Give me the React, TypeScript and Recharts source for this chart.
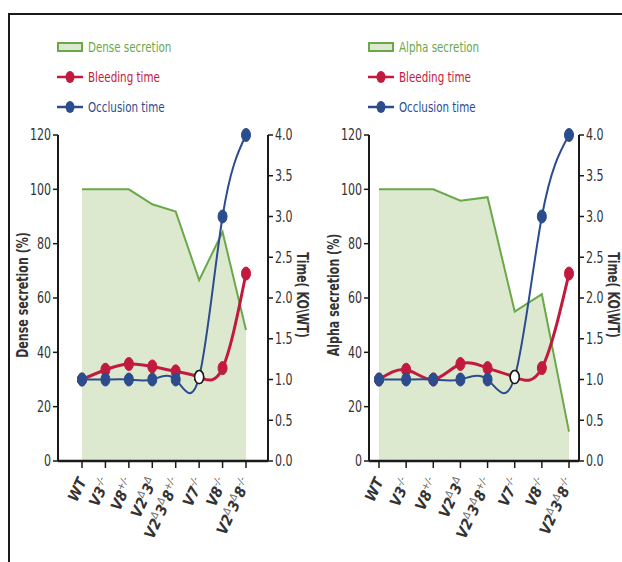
import React from 'react';
import { ComposedChart, Area, Line, XAxis, YAxis } from 'recharts';

// categories use {..} for superscript parts
const categories = ['WT', 'V3{-/-}', 'V8{+/-}', 'V2{Δ}3{Δ}', 'V2{Δ}3{Δ}8{+/-}', 'V7{-/-}', 'V8{-/-}', 'V2{Δ}3{Δ}8{-/-}'];

const denseSecretion = [100, 100, 100, 94.5, 91.8, 66.6, 84.3, 48.2];
const denseBleeding = [1.0, 1.12, 1.19, 1.16, 1.1, 1.03, 1.14, 2.3];
const denseOcclusion = [1.0, 1.0, 1.0, 1.0, 1.0, 1.03, 3.0, 4.0];

const alphaSecretion = [100, 100, 100, 95.8, 97.1, 55, 61.4, 10.8];
const alphaBleeding = [1.0, 1.12, 1.0, 1.19, 1.14, 1.03, 1.14, 2.3];
const alphaOcclusion = [1.0, 1.0, 1.0, 1.0, 1.0, 1.03, 3.0, 4.0];

const pctTicks = [0, 20, 40, 60, 80, 100, 120];
const timeTicks = [0, 0.5, 1, 1.5, 2, 2.5, 3, 3.5, 4];

const GREEN = '#6aa84a';
const GREEN_FILL = '#dde9cf';
const RED = '#c21a3e';
const BLUE = '#2b4d8e';
const INK = '#1a1a1a';
const FONT = '"DejaVu Sans Condensed", "DejaVu Sans", sans-serif';
const NARROW = 0.82;

const W = 311;
const H = 562;

const parseLabel = (s: string) =>
  s.split(/(\{[^}]*\})/).filter(Boolean).map((p) =>
    p.startsWith('{') ? { text: p.slice(1, -1), sup: true } : { text: p, sup: false }
  );

const CategoryTick = (props: any) => {
  const { x, y, payload } = props;
  const parts = parseLabel(categories[payload.value] ?? '');
  return (
    <g transform={`translate(${x + 5},${y + 11})`}>
      <text
        transform="rotate(-65)"
        textAnchor="end"
        fontFamily={FONT}
        fontStretch="condensed"
        fontStyle="italic"
        fontWeight="bold"
        fontSize={15}
        fill="#333"
      >
        {parts.map((p, i) => (
          <tspan
            key={i}
            fontSize={p.sup ? 10 : 15}
            fontWeight={p.sup ? 'normal' : 'bold'}
            fill={p.sup ? '#666' : '#333'}
            baselineShift={p.sup ? '6' : undefined}
          >
            {p.text}
          </tspan>
        ))}
      </text>
    </g>
  );
};

const makeNumTick = (digits: number, anchor: 'start' | 'end') => (props: any) => {
  const { x, y, payload } = props;
  return (
    <g transform={`translate(${x},${y})`}>
      <text
        transform={`scale(${NARROW},1)`}
        textAnchor={anchor}
        dy="0.36em"
        fontFamily={FONT}
        fontSize={15}
        fill="#333"
      >
        {Number(payload.value).toFixed(digits)}
      </text>
    </g>
  );
};

const makeDot = (color: string) => (props: any) => {
  const { cx, cy, index } = props;
  if (cx == null || cy == null) return <g key={`d-${index}`} />;
  const open = index === 5;
  return (
    <ellipse
      key={`d-${index}`}
      cx={cx}
      cy={cy}
      rx={4.5}
      ry={6.5}
      fill={open ? '#ffffff' : color}
      stroke={open ? INK : color}
      strokeWidth={open ? 1.5 : 1}
    />
  );
};

const SideLabel = ({ value, x, angle }: { value: string; x: number; angle: number }) => (props: any) => {
  const vb = props.viewBox || { y: 135, height: 326 };
  const cy = vb.y + vb.height / 2 - 3;
  return (
    <g transform={`translate(${x},${cy}) rotate(${angle}) scale(${NARROW},1)`}>
      <text
        textAnchor="middle"
        dominantBaseline="central"
        fontFamily={FONT}
        fontWeight="bold"
        fontSize={15}
        fill="#333"
      >
        {value}
      </text>
    </g>
  );
};

const LegendBlock = ({ secretionName, left }: { secretionName: string; left: number }) => {
  const rows = [
    { name: secretionName, color: GREEN, kind: 'box' },
    { name: 'Bleeding time', color: RED, kind: 'dot' },
    { name: 'Occlusion time', color: BLUE, kind: 'dot' },
  ];
  return (
    <svg width={200} height={90} style={{ position: 'absolute', left, top: 32 }}>
      {rows.map((r, i) => {
        const cy = 15 + i * 30;
        return (
          <g key={r.name}>
            {r.kind === 'box' ? (
              <rect x={2} y={cy - 4} width={24} height={8} fill={GREEN_FILL} stroke={GREEN} strokeWidth={2} />
            ) : (
              <>
                <line x1={1} x2={27} y1={cy} y2={cy} stroke={r.color} strokeWidth={2.5} />
                <ellipse cx={14} cy={cy} rx={4.5} ry={6} fill={r.color} />
              </>
            )}
            <g transform={`translate(32,${cy}) scale(${NARROW},1)`}>
              <text dominantBaseline="central" fontFamily={FONT} fontSize={14} fill={r.color}>
                {r.name}
              </text>
            </g>
          </g>
        );
      })}
    </svg>
  );
};

interface PanelProps {
  secretion: number[];
  bleeding: number[];
  occlusion: number[];
  secretionName: string;
  axisTitle: string;
  padding: { left: number; right: number };
  left: number;
}

const SecretionPanel: React.FC<PanelProps> = ({ secretion, bleeding, occlusion, secretionName, axisTitle, padding, left }) => {
  const data = categories.map((c, i) => ({
    idx: i,
    secretion: secretion[i],
    bleeding: bleeding[i],
    occlusion: occlusion[i],
  }));

  return (
    <div style={{ position: 'absolute', left, top: 0, width: W, height: H }}>
      <ComposedChart width={W} height={H} data={data} margin={{ top: 135, right: 0, bottom: 11, left: 18 }}>
        <XAxis
          dataKey="idx"
          type="number"
          domain={[0, 7]}
          ticks={[0, 1, 2, 3, 4, 5, 6, 7]}
          padding={padding}
          height={90}
          interval={0}
          tickSize={7}
          tick={<CategoryTick />}
          axisLine={{ stroke: INK, strokeWidth: 2.5 }}
          tickLine={{ stroke: INK, strokeWidth: 1.5 }}
        />
        <YAxis
          yAxisId="pct"
          domain={[0, 120]}
          ticks={pctTicks}
          width={40}
          tickSize={5}
          axisLine={{ stroke: INK, strokeWidth: 2 }}
          tickLine={{ stroke: INK, strokeWidth: 1.5 }}
          tick={makeNumTick(0, 'end')}
          label={{ content: SideLabel({ value: `${secretionName}  (%)`, x: 23, angle: -90 }) }}
        />
        <YAxis
          yAxisId="time"
          orientation="right"
          domain={[0, 4]}
          ticks={timeTicks}
          width={43}
          tickSize={5}
          axisLine={{ stroke: INK, strokeWidth: 2 }}
          tickLine={{ stroke: INK, strokeWidth: 1.5 }}
          tick={makeNumTick(1, 'start')}
          label={{ content: SideLabel({ value: axisTitle, x: 302, angle: 90 }) }}
        />
        <Area
          yAxisId="pct"
          type="linear"
          dataKey="secretion"
          stroke={GREEN}
          strokeWidth={2}
          fill={GREEN_FILL}
          fillOpacity={1}
          isAnimationActive={false}
        />
        <Line
          yAxisId="time"
          type="natural"
          dataKey="bleeding"
          stroke={RED}
          strokeWidth={3}
          dot={makeDot(RED)}
          activeDot={false}
          isAnimationActive={false}
        />
        <Line
          yAxisId="time"
          type="natural"
          dataKey="occlusion"
          stroke={BLUE}
          strokeWidth={2}
          dot={makeDot(BLUE)}
          activeDot={false}
          isAnimationActive={false}
        />
      </ComposedChart>
      <LegendBlock secretionName={secretionName} left={56} />
    </div>
  );
};

export default function App() {
  return (
    <div style={{ position: 'absolute', left: 0, top: 0, width: 622, height: 562, background: '#fff', overflow: 'hidden' }}>
      <div
        style={{
          position: 'absolute',
          left: 8,
          top: 13,
          width: 640,
          height: 560,
          borderTop: `2px solid ${INK}`,
          borderLeft: `2px solid ${INK}`,
        }}
      />
      <SecretionPanel
        secretion={denseSecretion}
        bleeding={denseBleeding}
        occlusion={denseOcclusion}
        secretionName="Dense secretion"
        axisTitle="Time( KO\WT)"
        padding={{ left: 24, right: 22 }}
        left={0}
      />
      <SecretionPanel
        secretion={alphaSecretion}
        bleeding={alphaBleeding}
        occlusion={alphaOcclusion}
        secretionName="Alpha secretion"
        axisTitle="Time( KO\WT)"
        padding={{ left: 10, right: 10 }}
        left={311}
      />
    </div>
  );
}
